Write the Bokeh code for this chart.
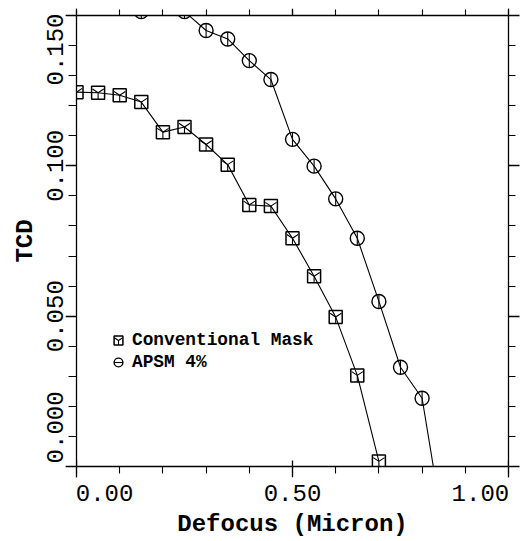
import math
from bokeh.plotting import figure
from bokeh.models import (Range1d, FixedTicker, LinearAxis, Legend, LegendItem,
                          CustomLabelingPolicy)
from bokeh.embed import file_html
from bokeh.resources import INLINE

# ---- data ----
x_conv = [0.00, 0.05, 0.10, 0.15, 0.20, 0.25, 0.30, 0.35, 0.40, 0.45, 0.50, 0.55, 0.60, 0.65, 0.70]
tcd_conv = [0.1245, 0.1243, 0.1235, 0.1212, 0.1112, 0.1129, 0.1071, 0.1004, 0.0870, 0.0866,
            0.0759, 0.0633, 0.0497, 0.0303, 0.0017]

x_apsm = [0.15, 0.20, 0.25, 0.30, 0.35, 0.40, 0.45, 0.50, 0.55, 0.60, 0.65, 0.70, 0.75, 0.80, 0.85]
tcd_apsm = [0.1513, 0.1530, 0.1513, 0.1450, 0.1422, 0.1350, 0.1287, 0.1088, 0.0999, 0.0890,
            0.0759, 0.0549, 0.0330, 0.0227, -0.0210]

series_names = ["Conventional Mask", "APSM 4%"]

x_major = [0.0, 0.5, 1.0]
x_minor = [0.0, 0.1, 0.2, 0.3, 0.4, 0.5, 0.6, 0.7, 0.8, 0.9, 1.0]
x_tick_labels = ["0.00", "0.50", "1.00"]
# where the reference prints those labels (end labels are pulled inside the axis span)
x_label_pos = [0.065, 0.5, 0.935]

y_major = [0.0, 0.05, 0.10, 0.15]
y_minor = [0.00, 0.01, 0.02, 0.03, 0.04, 0.05, 0.06, 0.07, 0.08, 0.09,
           0.10, 0.11, 0.12, 0.13, 0.14, 0.15]
y_tick_labels = ["0.000", "0.050", "0.100", "0.150"]
y_label_pos = [0.0130, 0.05, 0.10, 0.1387]

FONT = "Liberation Mono"
TICK_FS = "24px"
TITLE_FS = "24px"

p = figure(width=523, height=541, output_backend="svg", toolbar_location=None,
           x_range=Range1d(0.0, 1.0), y_range=Range1d(0.0, 0.15),
           min_border_left=76, min_border_right=15, min_border_top=15, min_border_bottom=75)
p.grid.visible = False
p.outline_line_color = "black"
p.background_fill_color = "white"
p.border_fill_color = "white"

NO_LABELS = """
try {
  const n = indices.size;
  for (let i = 0; i < n; i++) { indices.unset(i); }
} catch (e) {}
return indices;
"""


def white_bg(ax):
    try:
        ax.background_fill_color = "white"
        ax.background_fill_alpha = 1.0
    except Exception:
        pass


def tick_axis(ax, ticker, tick_out, minor_out, major_in=0, color="black"):
    ax.ticker = ticker
    ax.major_label_policy = CustomLabelingPolicy(code=NO_LABELS)
    ax.major_label_text_font_size = "0px"
    ax.major_label_standoff = 0
    ax.major_tick_in = major_in
    ax.major_tick_out = tick_out
    ax.minor_tick_in = 0
    ax.minor_tick_out = minor_out
    ax.axis_line_width = 1.3
    ax.axis_line_color = color
    ax.major_tick_line_color = color
    ax.minor_tick_line_color = color
    ax.major_tick_line_width = 1.3
    ax.minor_tick_line_width = 1.1
    white_bg(ax)


def label_axis(ax, positions, labels, standoff):
    ax.ticker = FixedTicker(ticks=positions, minor_ticks=[])
    ax.major_label_overrides = {pos: lab for pos, lab in zip(positions, labels)}
    ax.axis_line_color = None
    ax.major_tick_line_color = None
    ax.minor_tick_line_color = None
    ax.major_tick_in = 0
    ax.major_tick_out = 0
    ax.minor_tick_in = 0
    ax.minor_tick_out = 0
    ax.major_label_standoff = standoff
    ax.major_label_text_font = FONT
    ax.major_label_text_font_size = TICK_FS
    ax.major_label_text_color = "black"
    ax.axis_label_text_font = FONT
    ax.axis_label_text_font_size = TITLE_FS
    ax.axis_label_text_font_style = "bold"
    ax.axis_label_text_color = "black"
    white_bg(ax)


# ---- bottom: tick axis (inner) + label axis (outer) ----
tick_axis(p.xaxis[0], FixedTicker(ticks=x_major, minor_ticks=x_minor), 11, 7, major_in=6)
xl = LinearAxis()
label_axis(xl, x_label_pos, x_tick_labels, 7)
xl.axis_label = "Defocus (Micron)"
xl.axis_label_standoff = 7
p.add_layout(xl, "below")

# ---- left: tick axis (inner) + label axis (outer) ----
tick_axis(p.yaxis[0], FixedTicker(ticks=y_major, minor_ticks=y_minor), 11, 8)
yl = LinearAxis()
label_axis(yl, y_label_pos, y_tick_labels, 2)
yl.major_label_orientation = "vertical"
yl.axis_label = "TCD"
yl.axis_label_standoff = 6
p.add_layout(yl, "left")

# ---- right & top: ticks only ----
ra = LinearAxis()
tick_axis(ra, FixedTicker(ticks=y_major, minor_ticks=y_minor), 11, 7)
p.add_layout(ra, "right")

ta = LinearAxis()
tick_axis(ta, FixedTicker(ticks=x_major, minor_ticks=x_minor), 7, 6)
p.add_layout(ta, "above")
# blank white strip above the top ticks (masks markers lying above the frame)
ta2 = LinearAxis()
tick_axis(ta2, FixedTicker(ticks=x_major, minor_ticks=x_minor), 8, 8, color=None)
p.add_layout(ta2, "above")

# ---- series ----
p.line(x_conv, tcd_conv, line_color="black", line_width=1.1)
sq = p.scatter(x_conv, tcd_conv, marker="square", size=13, fill_color=None,
               line_color="black", line_width=1.5)
sqy = p.scatter(x_conv, tcd_conv, marker="y", size=13, line_color="black", line_width=1.1)

p.line(x_apsm, tcd_apsm, line_color="black", line_width=1.1)
ci = p.scatter(x_apsm, tcd_apsm, marker="circle", size=14, fill_color=None,
               line_color="black", line_width=1.4)
cid = p.scatter(x_apsm, tcd_apsm, marker="dash", angle=math.pi / 2, size=14,
                line_color="black", line_width=1.1)

legend = Legend(items=[LegendItem(label=series_names[0], renderers=[sq, sqy]),
                       LegendItem(label=series_names[1], renderers=[ci, cid])],
                location=(31, 93), orientation="vertical", padding=0, margin=0, spacing=0,
                glyph_width=22, glyph_height=22, label_height=22, label_standoff=3,
                label_text_font=FONT, label_text_font_size="17.8px",
                label_text_font_style="bold", label_text_color="black",
                border_line_color=None, background_fill_alpha=0)
p.add_layout(legend)

open("out.html", "w").write(file_html(p, INLINE))
